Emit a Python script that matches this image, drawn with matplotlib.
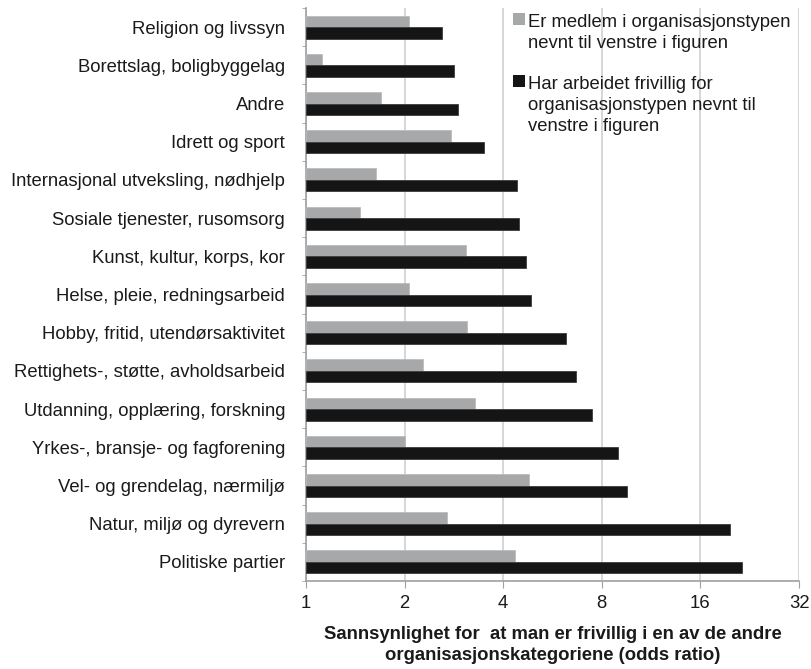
import numpy as np
import matplotlib
matplotlib.use("Agg")
import matplotlib.pyplot as plt
from matplotlib.patches import Rectangle

plt.rcParams['font.family'] = ['Liberation Sans', 'DejaVu Sans']

# -------- Data (odds ratios) --------
categories = [
    "Religion og livssyn",
    "Borettslag, boligbyggelag",
    "Andre",
    "Idrett og sport",
    "Internasjonal utveksling, nødhjelp",
    "Sosiale tjenester, rusomsorg",
    "Kunst, kultur, korps, kor",
    "Helse, pleie, redningsarbeid",
    "Hobby, fritid, utendørsaktivitet",
    "Rettighets-, støtte, avholdsarbeid",
    "Utdanning, opplæring, forskning",
    "Yrkes-, bransje- og fagforening",
    "Vel- og grendelag, nærmiljø",
    "Natur, miljø og dyrevern",
    "Politiske partier",
]
medlem = [2.07, 1.12, 1.70, 2.78, 1.64, 1.46, 3.07, 2.07, 3.11, 2.28, 3.28, 2.00, 4.79, 2.69, 4.34]
frivillig = [2.60, 2.83, 2.91, 3.50, 4.40, 4.47, 4.71, 4.86, 6.22, 6.65, 7.46, 8.94, 9.55, 19.7, 21.4]
xticks = [1, 2, 4, 8, 16, 32]

label_medlem = "Er medlem i organisasjonstypen\nnevnt til venstre i figuren"
label_frivillig = "Har arbeidet frivillig for\norganisasjonstypen nevnt til\nvenstre i figuren"
xlabel = "Sannsynlighet for  at man er frivillig i en av de andre\norganisasjonskategoriene (odds ratio)"

grey = "#A7A8AA"
black = "#151515"
axis_grey = "#A0A0A0"
txt = "#1a1a1a"
fs = 13.3

W, H = 812, 669
fig = plt.figure(figsize=(W / 100, H / 100), dpi=100)
ax = fig.add_axes([306 / W, 1 - 581 / H, (799 - 306) / W, (581 - 8) / H])

y = np.arange(len(categories))
h = 0.30
# bars start at odds ratio 1 on the log axis
ax.barh(y - h / 2, np.array(medlem) - 1, height=h, left=1, color=grey,
        edgecolor="#B8B9BB", linewidth=0.5, zorder=3)
ax.barh(y + h / 2, np.array(frivillig) - 1, height=h, left=1, color=black,
        edgecolor="#3c3c3c", linewidth=0.6, zorder=3)

ax.set_xscale("log", base=2)
ax.set_xlim(1, 32)
ax.set_xticks(xticks)
ax.set_xticklabels([str(t) for t in xticks])
ax.minorticks_off()
ax.set_ylim(len(categories) - 0.5, -0.5)
ax.set_yticks(y)
ax.set_yticklabels(categories)
ax.set_yticks(np.arange(len(categories) + 1) - 0.5, minor=True)
ax.tick_params(axis="y", which="major", length=0, pad=15, labelsize=fs, colors=txt)
ax.tick_params(axis="y", which="minor", length=3, color=axis_grey)
ax.tick_params(axis="x", length=5, color=axis_grey, labelsize=fs, pad=5, labelcolor=txt)

ax.grid(axis="x", color="#D0D0D0", linewidth=1.2, zorder=0)
for s in ["top", "right"]:
    ax.spines[s].set_visible(False)
for s in ["left", "bottom"]:
    ax.spines[s].set_color(axis_grey)
    ax.spines[s].set_linewidth(1.2)

ax.set_xlabel(xlabel, fontsize=fs, fontweight="bold", labelpad=10, linespacing=1.35, color=txt)

# legend: square aligned with the first line of each entry, no frame
legend_items = [(grey, label_medlem, 13), (black, label_frivillig, 75)]
line_step = 21
for color, label, top in legend_items:
    fig.patches.append(Rectangle((513 / W, 1 - (top + 12) / H), 12 / W, 12 / H,
                                 transform=fig.transFigure, facecolor=color,
                                 edgecolor="none"))
    for i, line in enumerate(label.split("\n")):
        base = top + 14 + i * line_step
        fig.text(528 / W, 1 - base / H, line, fontsize=fs, color=txt,
                 va="baseline", ha="left")

fig.savefig("out.png", dpi=100)
